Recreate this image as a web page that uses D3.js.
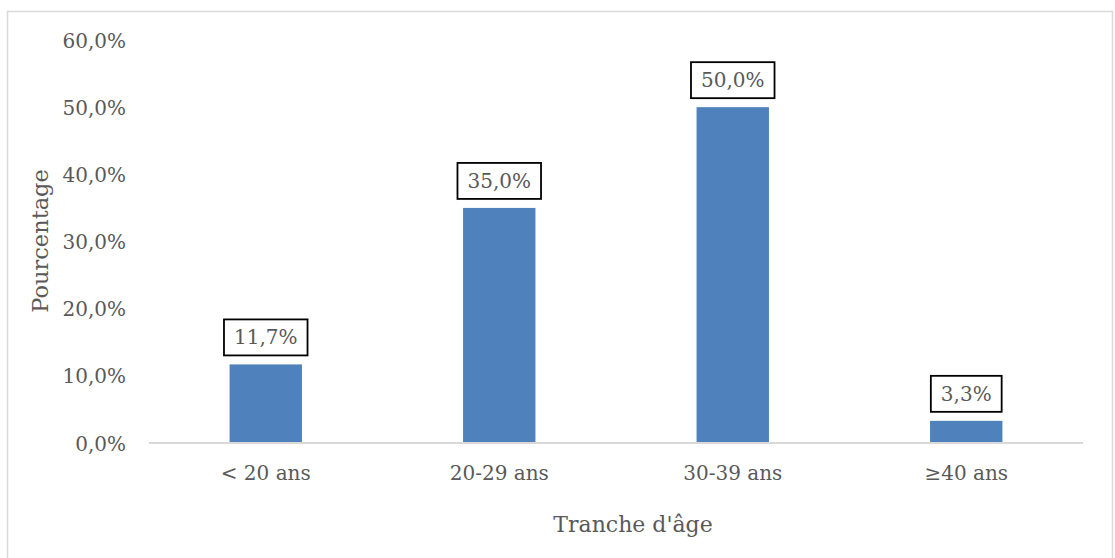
<!DOCTYPE html>
<html><head><meta charset="utf-8">
<script src="https://cdn.jsdelivr.net/npm/d3@7"></script>
<style>body{margin:0;background:#fff}svg{display:block}text{font-family:"DejaVu Serif",serif;fill:#595959}</style>
</head><body>
<svg id="c" width="1115" height="558"></svg>
<script>
const categories = ["< 20 ans", "20-29 ans", "30-39 ans", "≥40 ans"];
const values = [11.7, 35.0, 50.0, 3.3];
const yTicks = [0, 10, 20, 30, 40, 50, 60];
const yTitle = "Pourcentage";
const xTitle = "Tranche d'âge";

const svg = d3.select("#c");
const fmt = v => d3.format(".1f")(v).replace(".", ",") + "%";
const fs = 20;

svg.append("rect").attr("x", 7.5).attr("y", 11.5).attr("width", 1105).attr("height", 560)
  .attr("fill", "none").attr("stroke", "#d9d9d9").attr("stroke-width", 1.5);

const x = d3.scaleBand().domain(categories).range([149, 1083]).paddingInner(0.69).paddingOuter(0.345);
const y = d3.scaleLinear().domain([0, 60]).range([443, 40]);

// y axis
const ya = svg.append("g").attr("transform", "translate(126,0)")
  .call(d3.axisLeft(y).tickValues(yTicks).tickFormat(fmt).tickSize(0).tickPadding(0));
ya.select(".domain").remove();
ya.selectAll("text").style("font-size", fs + "px").style("font-family", "DejaVu Serif").attr("fill", "#595959").attr("dy", "0.35em");

// bars
svg.selectAll("rect.bar").data(values).join("rect").attr("class", "bar")
  .attr("x", (d, i) => x(categories[i])).attr("width", x.bandwidth())
  .attr("y", d => y(d)).attr("height", d => y(0) - y(d)).attr("fill", "#4F81BD");

// x axis
const xa = svg.append("g").attr("transform", `translate(0,${y(0)})`)
  .call(d3.axisBottom(x).tickSize(0).tickPadding(23));
xa.select(".domain").attr("stroke", "#d9d9d9").attr("stroke-width", 2).attr("d", "M149,0H1083");
xa.selectAll("text").style("font-size", fs + "px").style("font-family", "DejaVu Serif").attr("fill", "#595959");

// labels
const lg = svg.selectAll("g.lab").data(values).join("g").attr("class", "lab");
lg.each(function (d, i) {
  const g = d3.select(this);
  const cx = x(categories[i]) + x.bandwidth() / 2;
  const t = g.append("text").attr("x", cx).attr("y", y(d) - 27).attr("text-anchor", "middle")
    .attr("dy", "0.35em").style("font-size", fs + "px").text(fmt(d));
  const w = t.node().getComputedTextLength();
  g.insert("rect", "text").attr("x", cx - w / 2 - 10).attr("y", y(d) - 45).attr("width", w + 20).attr("height", 36)
    .attr("fill", "#fff").attr("stroke", "#000").attr("stroke-width", 1.8);
});

svg.append("text").attr("transform", "translate(40,241) rotate(-90)").attr("text-anchor", "middle")
  .attr("dy", "0.35em").style("font-size", "22.5px").text(yTitle);
svg.append("text").attr("x", 633).attr("y", 524).attr("text-anchor", "middle")
  .attr("dy", "0.35em").style("font-size", "22px").text(xTitle);
</script>
</body></html>
